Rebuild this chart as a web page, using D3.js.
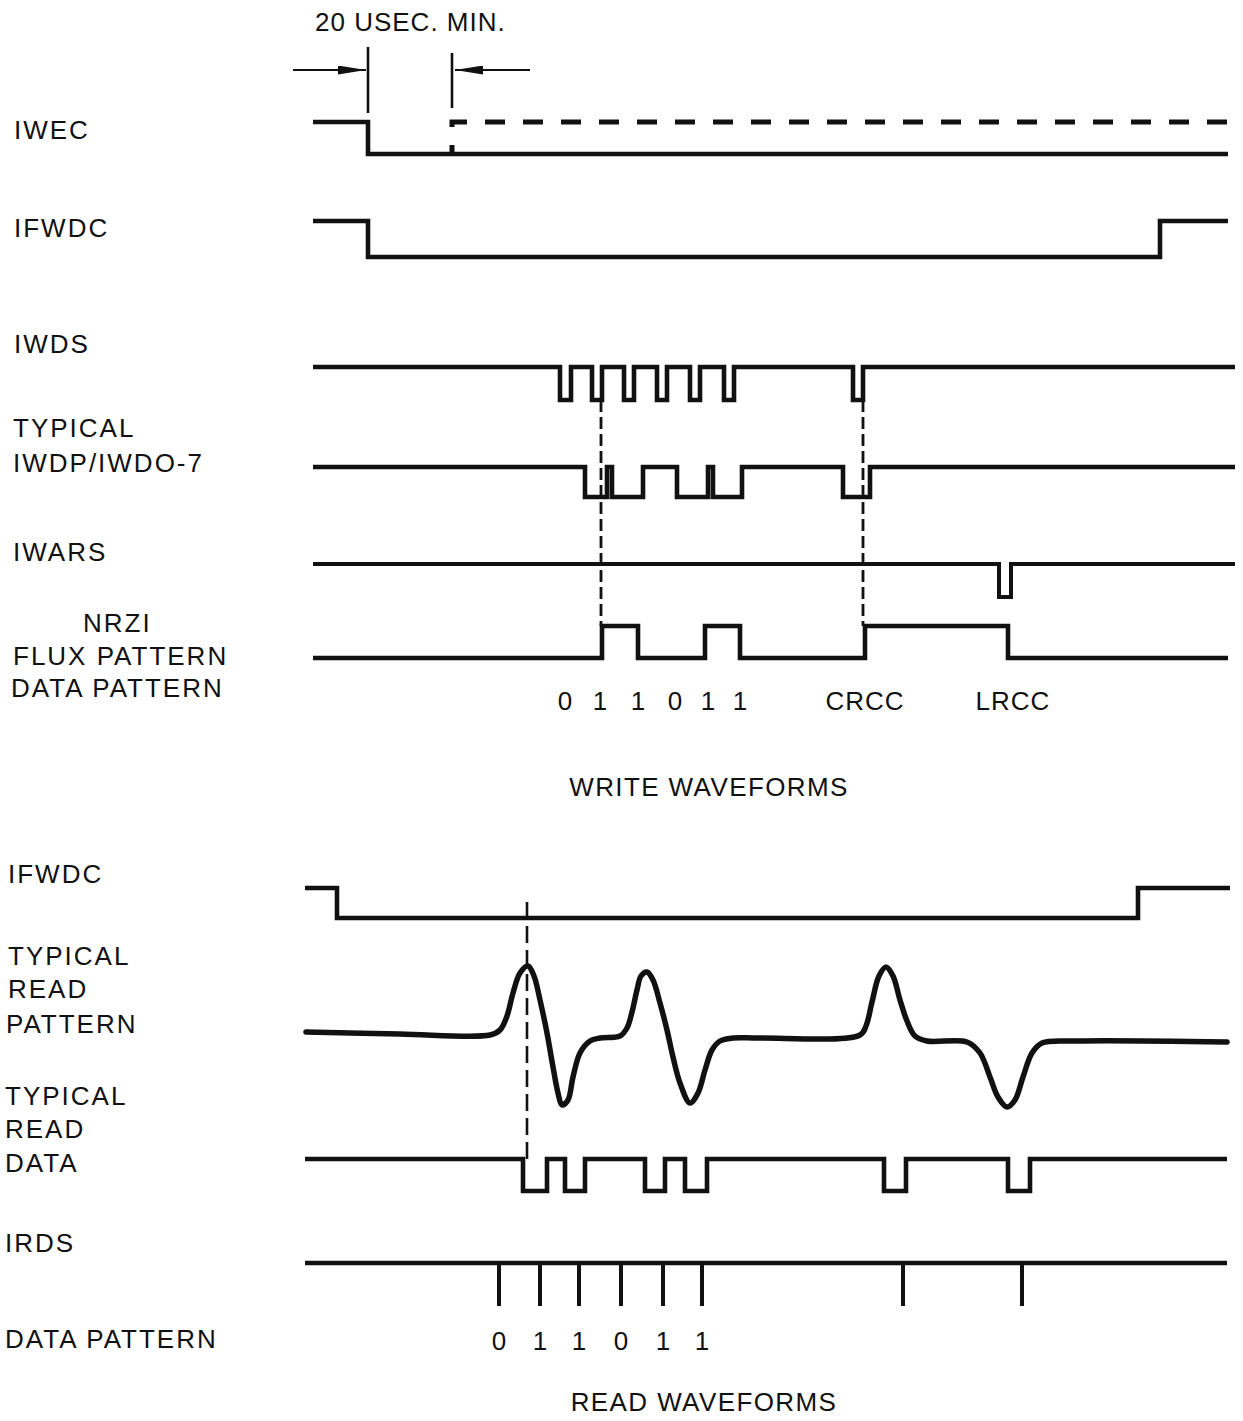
<!DOCTYPE html>
<html><head><meta charset="utf-8">
<script src="https://cdn.jsdelivr.net/npm/d3@7"></script>
<style>
body{margin:0;background:#fff}
svg{display:block}
text{font-family:"Liberation Sans",Arial,Helvetica,sans-serif;font-size:26px;letter-spacing:2px;fill:#111}
</style>
</head><body>
<svg id="c" width="1243" height="1421"></svg>
<script>
// ---------------- DATA (time units) ----------------
// WRITE WAVEFORMS
const minSpan = [68, 152];               // 20 usec. min. window
const minLabel = "20 USEC. MIN.";
const iwecSpan = [13, 928], iwecInit = 1, iwecToggles = [68];
const iwecDashed = [152, 935];           // optional (dashed) return high
const ifwdcSpan = [13, 928], ifwdcInit = 1, ifwdcToggles = [68, 860];
const iwdsSpan = [13, 935];
const iwdsPulses = [[260,271],[292,302],[324,334],[357,367],[390,400],[424,434],[553,563]];
const iwdpSpan = [13, 935];
const iwdpPulses = [[285,307],[312,343],[377,408],[413,442],[543,570]];
const iwarsSpan = [13, 935];
const iwarsPulses = [[699,711]];
const nrziSpan = [13, 928];
const nrziHighs = [[302,338],[405,440],[565,708]];
const writeSyncTimes = [301, 563];
const writeBits = ["0","1","1","0","1","1"];
const writeBitTimes = [265, 300, 338, 375, 408, 440];
const checkLabels = ["CRCC", "LRCC"];
const checkTimes = [565, 713];

// READ WAVEFORMS
const rIfwdcSpan = [5, 930], rIfwdcInit = 1, rIfwdcToggles = [37, 838];
const readPatternT = [
  6, 100, 190, 200, 207, 213, 220, 228, 234, 240,
  247, 253, 258, 262, 268, 273, 280, 290, 300, 320,
  327, 332, 337, 341, 347, 353, 360, 367, 373, 380,
  390, 398, 405, 412, 420, 433, 460, 560, 566, 572,
  579, 586, 593, 600, 607, 615, 627, 667, 680, 690,
  698, 707, 715, 723, 732, 742, 777, 927];
const readPatternV = [
  6, 4, 3, 8, 22, 45, 65, 72, 62, 38,
  5, -29, -55, -67, -62, -39, -15, -3, 0, 2,
  10, 26, 48, 62, 66, 58, 35, 8, -19, -45,
  -65, -55, -32, -12, -3, 0, 0, 3, 12, 36,
  62, 71, 62, 38, 17, 2, -3, -4, -15, -39,
  -59, -69, -62, -39, -15, -5, -3, -4];
const readDataSpan = [5, 927];
const readDataPulses = [[223,247],[265,285],[345,365],[385,407],[584,606],[708,730]];
const irdsSpan = [5, 927];
const irdsStrobes = [199,240,279,321,363,402,603,722];
const readBits = ["0","1","1","0","1","1"];
const readSyncTime = 227;

// Labels
const writeLabels = ["IWEC","IFWDC","IWDS","TYPICAL","IWDP/IWDO-7","IWARS","NRZI","FLUX PATTERN","DATA PATTERN"];
const readLabels = ["IFWDC","TYPICAL","READ","PATTERN","TYPICAL","READ","DATA","IRDS","DATA PATTERN"];
const titles = ["WRITE WAVEFORMS","READ WAVEFORMS"];

// ---------------- LAYOUT ----------------
const INK = "#111";
const rows = {
  iwec:{hi:122,lo:154}, ifwdc:{hi:221,lo:257}, iwds:{hi:367,lo:400}, iwdp:{hi:467,lo:497},
  iwars:{hi:564,lo:597}, nrzi:{hi:626,lo:658},
  rIfwdc:{hi:888,lo:918}, rData:{hi:1159,lo:1191}
};
const writeLabelPos = [[14,139],[14,237],[14,353],[13,437],[13,472],[13,561],[83,632],[13,665],[11,697]];
const readLabelPos = [[8,883],[8,965],[8,998],[6,1033],[5,1105],[5,1138],[5,1172],[5,1252],[5,1348]];
const titlePos = [[709,796],[704,1411]];

const svg = d3.select("#c");
const x = d3.scaleLinear().domain([0, 943]).range([300, 1243]);
const rowY = r => d3.scaleLinear().domain([0, 1]).range([rows[r].lo, rows[r].hi]);

const stepLine = (ys) => d3.line().x(d => x(d[0])).y(d => ys(d[1])).curve(d3.curveStepAfter);

function fromToggles(span, init, toggles) {
  const pts = [[span[0], init]]; let l = init;
  toggles.forEach(t => { l = 1 - l; pts.push([t, l]); });
  pts.push([span[1], l]);
  return pts;
}
function fromPulses(span, base, pulses) {
  const pts = [[span[0], base]];
  pulses.forEach(p => { pts.push([p[0], 1 - base]); pts.push([p[1], base]); });
  pts.push([span[1], base]);
  return pts;
}
function drawStep(rowKey, pts, sw) {
  svg.append("path").attr("d", stepLine(rowY(rowKey))(pts))
    .attr("fill","none").attr("stroke",INK).attr("stroke-width",sw||4.6)
    .attr("stroke-linejoin","miter").attr("stroke-linecap","butt");
}

// defs: arrowhead
svg.append("defs").append("marker").attr("id","ah")
  .attr("viewBox","0 0 28 9").attr("refX",28).attr("refY",4.5)
  .attr("markerWidth",28).attr("markerHeight",9).attr("markerUnits","userSpaceOnUse")
  .attr("orient","auto")
  .append("path").attr("d","M0,0L28,4.5L0,9Z").attr("fill",INK);

// ---------------- WRITE ----------------
svg.append("text").attr("x", x(minSpan[0]) - 53).attr("y", 31).style("letter-spacing","1px").text(minLabel);
// bracket lines
svg.append("line").attr("x1",x(minSpan[0])).attr("x2",x(minSpan[0])).attr("y1",47).attr("y2",113)
  .attr("stroke",INK).attr("stroke-width",2.6);
svg.append("line").attr("x1",x(minSpan[1])).attr("x2",x(minSpan[1])).attr("y1",53).attr("y2",108)
  .attr("stroke",INK).attr("stroke-width",2.6);
svg.append("line").attr("x1",x(minSpan[0])-75).attr("x2",x(minSpan[0])-2).attr("y1",70).attr("y2",70)
  .attr("stroke",INK).attr("stroke-width",2.2).attr("marker-end","url(#ah)");
svg.append("line").attr("x1",x(minSpan[1])+78).attr("x2",x(minSpan[1])+3).attr("y1",70).attr("y2",70)
  .attr("stroke",INK).attr("stroke-width",2.2).attr("marker-end","url(#ah)");

drawStep("iwec", fromToggles(iwecSpan, iwecInit, iwecToggles));
svg.append("path").attr("d", stepLine(rowY("iwec"))([[iwecDashed[0],0],[iwecDashed[0],1],[iwecDashed[1],1]]))
  .attr("fill","none").attr("stroke",INK).attr("stroke-width",5)
  .attr("stroke-dasharray","20,18").attr("stroke-dashoffset",11);
drawStep("ifwdc", fromToggles(ifwdcSpan, ifwdcInit, ifwdcToggles));
drawStep("iwds", fromPulses(iwdsSpan, 1, iwdsPulses));
drawStep("iwdp", fromPulses(iwdpSpan, 1, iwdpPulses));
drawStep("iwars", fromPulses(iwarsSpan, 1, iwarsPulses), 4);
drawStep("nrzi", fromPulses(nrziSpan, 0, nrziHighs));

writeSyncTimes.forEach(t => {
  svg.append("line").attr("x1",x(t)).attr("x2",x(t)).attr("y1",rows.iwds.lo).attr("y2",rows.nrzi.hi)
    .attr("stroke",INK).attr("stroke-width",2.8).attr("stroke-dasharray","12,5");
});

writeBits.forEach((b,i) => svg.append("text").attr("x",x(writeBitTimes[i])).attr("y",710)
  .attr("text-anchor","middle").style("letter-spacing","0px").text(b));
checkLabels.forEach((c,i) => svg.append("text").attr("x",x(checkTimes[i])).attr("y",710)
  .attr("text-anchor","middle").style("letter-spacing","1px").text(c));

writeLabels.forEach((l,i) => svg.append("text").attr("x",writeLabelPos[i][0]).attr("y",writeLabelPos[i][1]).text(l));
titles.forEach((t,i) => svg.append("text").attr("x",titlePos[i][0]).attr("y",titlePos[i][1])
  .attr("text-anchor","middle").style("letter-spacing","1.4px").text(t));

// ---------------- READ ----------------
drawStep("rIfwdc", fromToggles(rIfwdcSpan, rIfwdcInit, rIfwdcToggles));

const yPat = d3.scaleLinear().domain([-80, 80]).range([1038 + 80, 1038 - 80]);
const patLine = d3.line().x(d => x(d[0])).y(d => yPat(d[1])).curve(d3.curveCatmullRom.alpha(0.5));
svg.append("path").attr("d", patLine(readPatternT.map((t,i) => [t, readPatternV[i]])))
  .attr("fill","none").attr("stroke",INK).attr("stroke-width",5.5)
  .attr("stroke-linejoin","round").attr("stroke-linecap","round");

drawStep("rData", fromPulses(readDataSpan, 1, readDataPulses));

svg.append("line").attr("x1",x(readSyncTime)).attr("x2",x(readSyncTime))
  .attr("y1",902).attr("y2",rows.rData.hi)
  .attr("stroke",INK).attr("stroke-width",2.6).attr("stroke-dasharray","17,7");

// IRDS strobes
svg.append("line").attr("x1",x(irdsSpan[0])).attr("x2",x(irdsSpan[1])).attr("y1",1263).attr("y2",1263)
  .attr("stroke",INK).attr("stroke-width",4.6);
irdsStrobes.forEach(t => svg.append("line").attr("x1",x(t)).attr("x2",x(t)).attr("y1",1263).attr("y2",1306)
  .attr("stroke",INK).attr("stroke-width",4));

readBits.forEach((b,i) => svg.append("text").attr("x",x(irdsStrobes[i])).attr("y",1350)
  .attr("text-anchor","middle").style("letter-spacing","0px").text(b));

readLabels.forEach((l,i) => svg.append("text").attr("x",readLabelPos[i][0]).attr("y",readLabelPos[i][1]).text(l));
</script>
</body></html>
